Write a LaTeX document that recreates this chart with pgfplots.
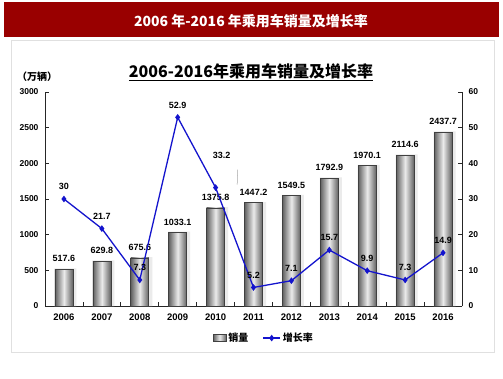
\documentclass[border=0pt]{standalone}
\usepackage{pgfplots}
\pgfplotsset{compat=1.18}
\usepackage{fontspec}
\setmainfont{Liberation Sans}
\newfontfamily\cjk{Noto Sans CJK SC}
\definecolor{hdr}{RGB}{153,0,0}
\definecolor{ln}{RGB}{20,20,205}
\tikzset{barsh/.style={draw=black!75, line width=0.6pt, left color=black!62, right color=black!62, middle color=black!8}}
\begin{document}
\begin{tikzpicture}[x=1pt,y=1pt]
\fill[white] (0,0) rectangle (503,378);
\fill[hdr] (4,376) rectangle (499,341);
\node[white,font=\cjk\bfseries\fontsize{14}{14}\selectfont] at (251,357) {2006 年-2016 年乘用车销量及增长率};
\draw[black!12] (11,338) rectangle (494,26);
\node[font=\cjk\bfseries\fontsize{16}{16}\selectfont] at (251,306) {\underline{2006-2016年乘用车销量及增长率}};
\node[font=\cjk\bfseries\fontsize{10}{10}\selectfont] at (37,301) {（万辆）};
\begin{axis}[
  at={(45pt,72pt)}, anchor=south west,
  scale only axis, width=417pt, height=214pt,
  xmin=-0.5, xmax=10.5, ymin=0, ymax=3000,
  axis y line*=left, axis x line*=bottom,
  axis line style={black!85, line width=0.8pt},
  xtick={0,...,10},
  xticklabels={2006,2007,2008,2009,2010,2011,2012,2013,2014,2015,2016},
  major x tick style={draw=none},
  minor xtick={0.5,1.5,...,9.5},
  minor tick length=4pt, major tick length=4pt,
  every tick/.style={black!85, line width=0.7pt},
  ytick={0,500,...,3000},
  tick align=inside,
  /pgf/number format/1000 sep={},
  /pgf/number format/assume math mode=true,
  xticklabel style={font=\bfseries\fontsize{9.5}{9.5}\selectfont, yshift=-4pt},
  yticklabel style={font=\bfseries\fontsize{8.5}{8.5}\selectfont, xshift=-3pt},
  clip=false,
]
\addplot[ybar, bar width=22pt, bar shift=1.5pt, fill=black!8, draw=none] coordinates {
 (0,527.6) (1,639.8) (2,685.6) (3,1043.1) (4,1385.8) (5,1457.2) (6,1559.5) (7,1802.9) (8,1980.1) (9,2124.6) (10,2447.7)};
\addplot[ybar, bar width=18pt, barsh] coordinates {(0,517.6)};
\addplot[ybar, bar width=18pt, barsh] coordinates {(1,629.8)};
\addplot[ybar, bar width=18pt, barsh] coordinates {(2,675.6)};
\addplot[ybar, bar width=18pt, barsh] coordinates {(3,1033.1)};
\addplot[ybar, bar width=18pt, barsh] coordinates {(4,1375.8)};
\addplot[ybar, bar width=18pt, barsh] coordinates {(5,1447.2)};
\addplot[ybar, bar width=18pt, barsh] coordinates {(6,1549.5)};
\addplot[ybar, bar width=18pt, barsh] coordinates {(7,1792.9)};
\addplot[ybar, bar width=18pt, barsh] coordinates {(8,1970.1)};
\addplot[ybar, bar width=18pt, barsh] coordinates {(9,2114.6)};
\addplot[ybar, bar width=18pt, barsh] coordinates {(10,2437.7)};
\begin{scope}[every node/.style={font=\bfseries\fontsize{9}{9}\selectfont, anchor=south, inner sep=0pt, yshift=7pt}]
\node at (axis cs:0,517.6) {517.6};
\node at (axis cs:1,629.8) {629.8};
\node at (axis cs:2,675.6) {675.6};
\node at (axis cs:3,1033.1) {1033.1};
\node at (axis cs:4,1375.8) {1375.8};
\node at (axis cs:5,1447.2) {1447.2};
\node at (axis cs:6,1549.5) {1549.5};
\node at (axis cs:7,1792.9) {1792.9};
\node at (axis cs:8,1970.1) {1970.1};
\node at (axis cs:9,2114.6) {2114.6};
\node at (axis cs:10,2437.7) {2437.7};
\end{scope}
\end{axis}
\begin{axis}[
  at={(45pt,72pt)}, anchor=south west,
  scale only axis, width=417pt, height=214pt,
  xmin=-0.5, xmax=10.5, ymin=0, ymax=60,
  axis y line*=right, axis x line=none,
  axis line style={black!85, line width=0.8pt},
  ytick={0,10,...,60},
  major tick length=4pt,
  every tick/.style={black!85, line width=0.7pt},
  tick align=inside,
  /pgf/number format/assume math mode=true,
  yticklabel style={font=\bfseries\fontsize{8.5}{8.5}\selectfont, xshift=3pt},
  clip=false,
  legend style={draw=none, fill=none, at={(0.525,-0.15)}, anchor=center,
    legend columns=2, font=\cjk\bfseries\fontsize{10}{10}\selectfont,
    /tikz/every even column/.append style={column sep=12pt}},
]
\addlegendimage{legend image code/.code={\draw[barsh, line width=0.5pt] (0pt,-3.5pt) rectangle (13pt,3.5pt);}}
\addlegendentry{销量}
\addplot[ln, line width=1.3pt, mark=diamond*, mark size=2.3pt, mark options={fill=ln}] coordinates {
 (0,30) (1,21.7) (2,7.3) (3,52.9) (4,33.2) (5,5.2) (6,7.1) (7,15.7) (8,9.9) (9,7.3) (10,14.9)};
\addlegendentry{增长率}
\draw[black!35, line width=0.5pt] (axis cs:4.07,33.2) ++(0,3pt) -- ++(0.5pt,15pt);
\begin{scope}[every node/.style={font=\bfseries\fontsize{9}{9}\selectfont, anchor=south, inner sep=0pt, yshift=9pt}]
\node at (axis cs:0,30) {30};
\node at (axis cs:1,21.7) {21.7};
\node at (axis cs:2,7.3) {7.3};
\node at (axis cs:3,52.9) {52.9};
\node[yshift=20pt, xshift=6pt] at (axis cs:4,33.2) {33.2};
\node at (axis cs:5,5.2) {5.2};
\node at (axis cs:6,7.1) {7.1};
\node at (axis cs:7,15.7) {15.7};
\node at (axis cs:8,9.9) {9.9};
\node at (axis cs:9,7.3) {7.3};
\node at (axis cs:10,14.9) {14.9};
\end{scope}
\end{axis}
\end{tikzpicture}
\end{document}
